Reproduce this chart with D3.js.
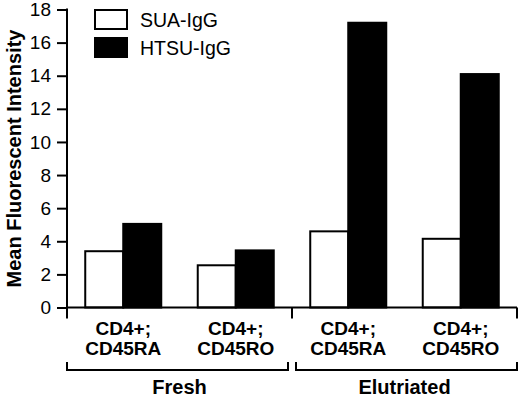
<!DOCTYPE html>
<html>
<head>
<meta charset="utf-8">
<script src="https://cdn.jsdelivr.net/npm/d3@7"></script>
<style>
  html, body { margin: 0; padding: 0; background: #fff; }
  svg { display: block; font-family: "Liberation Sans", Arial, Helvetica, sans-serif; }
</style>
</head>
<body>
<svg id="chart" width="520" height="397"></svg>
<script>
// ---- data ----
const categories = ["Fresh RA", "Fresh RO", "Elutriated RA", "Elutriated RO"];
const categoryLine1 = ["CD4+;", "CD4+;", "CD4+;", "CD4+;"];
const categoryLine2 = ["CD45RA", "CD45RO", "CD45RA", "CD45RO"];
const groups = ["Fresh", "Elutriated"];
const groupMembers = [["Fresh RA", "Fresh RO"], ["Elutriated RA", "Elutriated RO"]];
const seriesNames = ["SUA-IgG", "HTSU-IgG"];
const seriesColors = ["#ffffff", "#000000"];
const suaValues = [3.4, 2.55, 4.6, 4.15];
const htsuValues = [5.05, 3.45, 17.2, 14.1];
const yTicks = [0, 2, 4, 6, 8, 10, 12, 14, 16, 18];
const yLabel = "Mean Fluorescent Intensity";

const seriesValues = [suaValues, htsuValues];

// ---- layout ----
const svg = d3.select("#chart");
const mLeft = 67, mRight = 517, mTop = 9.5, mBottom = 307.5;

const x0 = d3.scaleBand().domain(categories).range([mLeft, mRight]).padding(0);
const x1 = d3.scaleBand().domain(seriesNames).range([0, x0.bandwidth()])
  .paddingInner(0).paddingOuter(0.48);
const y = d3.scaleLinear().domain([0, 18]).range([mBottom, mTop]);

// bars
categories.forEach((c, ci) => {
  seriesNames.forEach((s, si) => {
    const v = seriesValues[si][ci];
    svg.append("rect")
      .attr("x", x0(c) + x1(s))
      .attr("y", y(v))
      .attr("width", x1.bandwidth())
      .attr("height", y(0) - y(v))
      .attr("fill", seriesColors[si])
      .attr("stroke", "#000")
      .attr("stroke-width", 2);
  });
});

// y axis
const yAxis = d3.axisLeft(y).tickValues(yTicks).tickSize(10).tickPadding(6).tickSizeOuter(0);
const gy = svg.append("g").attr("transform", `translate(${mLeft},0)`).call(yAxis);
gy.select(".domain").remove();
gy.selectAll(".tick line").attr("stroke", "#000").attr("stroke-width", 2);
gy.selectAll(".tick text").attr("font-size", 19).attr("fill", "#000")
  .attr("font-family", "'Liberation Sans', Arial, sans-serif");
svg.append("line").attr("x1", mLeft).attr("x2", mLeft).attr("y1", mTop - 1).attr("y2", mBottom + 11)
  .attr("stroke", "#000").attr("stroke-width", 2);

// x axis line
svg.append("line").attr("x1", mLeft).attr("x2", mRight).attr("y1", mBottom).attr("y2", mBottom)
  .attr("stroke", "#000").attr("stroke-width", 2);

// group separator ticks
const sepX = [x0(groupMembers[1][0]), mRight];
sepX.forEach(sx => {
  svg.append("line").attr("x1", sx).attr("x2", sx).attr("y1", mBottom).attr("y2", mBottom + 11)
    .attr("stroke", "#000").attr("stroke-width", 2);
});

// category labels
categories.forEach((c, i) => {
  const cx = x0(c) + x0.bandwidth() / 2;
  svg.append("text").attr("x", cx).attr("y", 334.5).attr("text-anchor", "middle")
    .attr("font-size", 19).attr("font-weight", "bold").text(categoryLine1[i]);
  svg.append("text").attr("x", cx).attr("y", 355).attr("text-anchor", "middle")
    .attr("font-size", 19).attr("font-weight", "bold").text(categoryLine2[i]);
});

// group brackets
groups.forEach((g, gi) => {
  const m = groupMembers[gi];
  const gx0 = x0(m[0]) + (gi === 0 ? 0 : 4);
  const gx1 = x0(m[m.length - 1]) + x0.bandwidth() - (gi === 0 ? 4 : 0);
  svg.append("path")
    .attr("d", `M${gx0},362 V370 H${gx1} V362`)
    .attr("fill", "none").attr("stroke", "#000").attr("stroke-width", 2);
  svg.append("text").attr("x", (x0(m[0]) + x0(m[m.length - 1]) + x0.bandwidth()) / 2)
    .attr("y", 394).attr("text-anchor", "middle")
    .attr("font-size", 20).attr("font-weight", "bold").text(g);
});

// y label
svg.append("text")
  .attr("transform", `translate(21,${(mTop + mBottom) / 2}) rotate(-90)`)
  .attr("text-anchor", "middle")
  .attr("font-size", 20).attr("font-weight", "bold").text(yLabel);

// legend
seriesNames.forEach((s, i) => {
  const ly = 10 + i * 28;
  svg.append("rect").attr("x", 95).attr("y", ly).attr("width", 32).attr("height", 19)
    .attr("fill", seriesColors[i]).attr("stroke", "#000").attr("stroke-width", 2);
  svg.append("text").attr("x", 140).attr("y", ly + 17)
    .attr("font-size", 19.5).text(s);
});
</script>
</body>
</html>
